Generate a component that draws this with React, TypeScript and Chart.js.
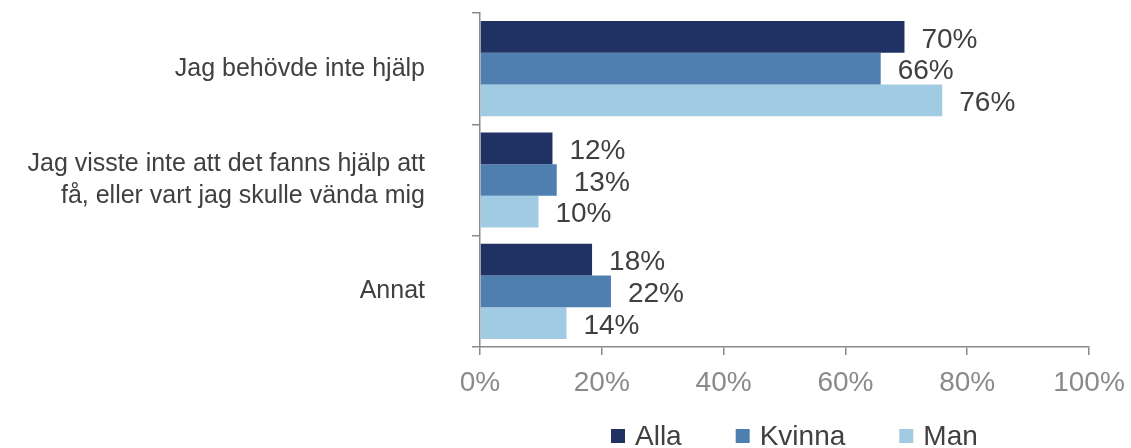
import React, { useEffect, useRef } from "react";
import { Chart, registerables } from "chart.js";

Chart.register(...registerables);

const categories: (string | string[])[] = [
  "Jag behövde inte hjälp",
  ["Jag visste inte att det fanns hjälp att", "få, eller vart jag skulle vända mig"],
  "Annat",
];
const seriesNames = ["Alla", "Kvinna", "Man"];
const alla = [69.7, 11.9, 18.4];
const kvinna = [65.8, 12.6, 21.5];
const man = [75.9, 9.6, 14.2];
const xTicks = [0, 20, 40, 60, 80, 100];
const seriesColors = ["#203263", "#4E7FB0", "#A1CAE3"];

const FONT = "'Liberation Sans', Arial, sans-serif";
const TEXT = "#404040";
const GRAY = "#8A8A8A";

const dataLabelPlugin = {
  id: "dataLabels",
  afterDatasetsDraw(chart: any) {
    const ctx = chart.ctx;
    ctx.save();
    ctx.font = `28px ${FONT}`;
    ctx.fillStyle = TEXT;
    ctx.textAlign = "left";
    ctx.textBaseline = "middle";
    chart.data.datasets.forEach((ds: any, di: number) => {
      const meta = chart.getDatasetMeta(di);
      meta.data.forEach((el: any, i: number) => {
        const v = Math.round(ds.data[i]);
        ctx.fillText(`${v}%`, el.x + 17, el.y + 3);
      });
    });
    ctx.restore();
  },
};

const legendPlugin = {
  id: "customLegend",
  afterDraw(chart: any) {
    const ctx = chart.ctx;
    ctx.save();
    ctx.font = `28px ${FONT}`;
    ctx.textAlign = "left";
    ctx.textBaseline = "middle";
    let x = 611;
    const yc = 436;
    chart.data.datasets.forEach((ds: any) => {
      ctx.fillStyle = ds.backgroundColor;
      ctx.fillRect(x, yc - 7, 14, 14);
      ctx.fillStyle = TEXT;
      ctx.fillText(ds.label, x + 24, yc + 1);
      const w = ctx.measureText(ds.label).width;
      x = x + 24 + w + 54;
    });
    ctx.restore();
  },
};

export default function App() {
  const ref = useRef<HTMLCanvasElement | null>(null);
  useEffect(() => {
    if (!ref.current) return;
    const chart = new Chart(ref.current, {
      type: "bar",
      data: {
        labels: categories,
        datasets: [alla, kvinna, man].map((d, i) => ({
          label: seriesNames[i],
          data: d,
          backgroundColor: seriesColors[i],
          borderWidth: 0,
          categoryPercentage: 0.855,
          barPercentage: 1,
        })),
      },
      options: {
        indexAxis: "y",
        animation: false,
        responsive: true,
        maintainAspectRatio: false,
        layout: { padding: { top: 13, right: 42, left: 0, bottom: 0 } },
        plugins: { legend: { display: false }, tooltip: { enabled: false } },
        scales: {
          x: {
            type: "linear",
            min: 0,
            max: 100,
            afterBuildTicks: (scale: any) => {
              scale.ticks = xTicks.map((v) => ({ value: v }));
            },
            afterFit: (scale: any) => {
              scale.height = 101;
              scale.paddingLeft = 0;
              scale.paddingRight = 0;
            },
            ticks: {
              callback: (v: any) => `${v}%`,
              color: GRAY,
              font: { family: FONT, size: 28 },
              padding: 11,
              maxRotation: 0,
            },
            grid: {
              display: true,
              drawOnChartArea: false,
              drawTicks: true,
              tickLength: 8,
              color: GRAY,
              lineWidth: 1.5,
            },
            border: { display: true, color: GRAY, width: 1.5 },
          },
          y: {
            type: "category",
            afterFit: (scale: any) => {
              scale.width = 480;
              scale.paddingTop = 0;
              scale.paddingBottom = 0;
            },
            ticks: {
              color: TEXT,
              font: { family: FONT, size: 25, lineHeight: 1.28 },
              padding: 47,
            },
            grid: {
              display: true,
              offset: true,
              drawOnChartArea: false,
              drawTicks: true,
              tickLength: 8,
              color: GRAY,
              lineWidth: 1.5,
            },
            border: { display: true, color: GRAY, width: 1.5 },
          },
        },
      } as any,
      plugins: [dataLabelPlugin, legendPlugin],
    });
    return () => chart.destroy();
  }, []);
  return (
    <div style={{ position: "fixed", left: 0, top: 0, width: 1131, height: 448, background: "#fff" }}>
      <canvas ref={ref} />
    </div>
  );
}
